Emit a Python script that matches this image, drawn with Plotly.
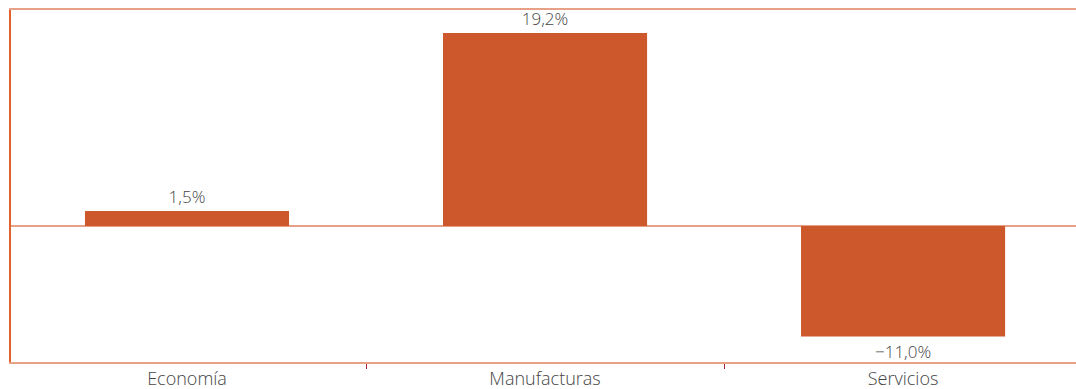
import plotly.graph_objects as go

categories = ["Economía", "Manufacturas", "Servicios"]
values = [1.5, 19.2, -11.0]


def fmt(v):
    s = f"{abs(v):.1f}".replace(".", ",") + "%"
    return ("\u2212" + s) if v < 0 else s


labels = [fmt(v) for v in values]

bar_color = "#CD582B"
line_light = "#E6A186"
line_dark = "#E0622F"
tick_color = "#A3213A"
text_color = "#444444"
font_family = "Open Sans"

fig = go.Figure(
    go.Bar(
        x=categories,
        y=values,
        text=labels,
        textposition="outside",
        textfont=dict(family=font_family, size=17, color=text_color, weight=300),
        marker=dict(color=bar_color, line=dict(width=0)),
        width=0.57,
        cliponaxis=False,
    )
)

fig.update_layout(
    width=1076,
    height=389,
    margin=dict(l=11, r=0, t=10, b=27),
    paper_bgcolor="white",
    plot_bgcolor="white",
    showlegend=False,
    font=dict(family=font_family, color=text_color),
)

fig.update_xaxes(
    type="category",
    range=[-0.4916, 2.483],
    showgrid=False,
    showline=True,
    linecolor=line_light,
    linewidth=1.5,
    mirror=True,
    ticks="outside",
    tickson="boundaries",
    ticklen=5,
    tickwidth=1,
    tickcolor=tick_color,
    tickfont=dict(family=font_family, size=18, color=text_color, weight=300),
)

fig.update_yaxes(
    range=[-13.53, 21.49],
    showgrid=False,
    showticklabels=False,
    zeroline=True,
    zerolinecolor=line_light,
    zerolinewidth=1.5,
    showline=True,
    linecolor=line_dark,
    linewidth=1.5,
    ticks="",
)

fig.write_html("out.html")
